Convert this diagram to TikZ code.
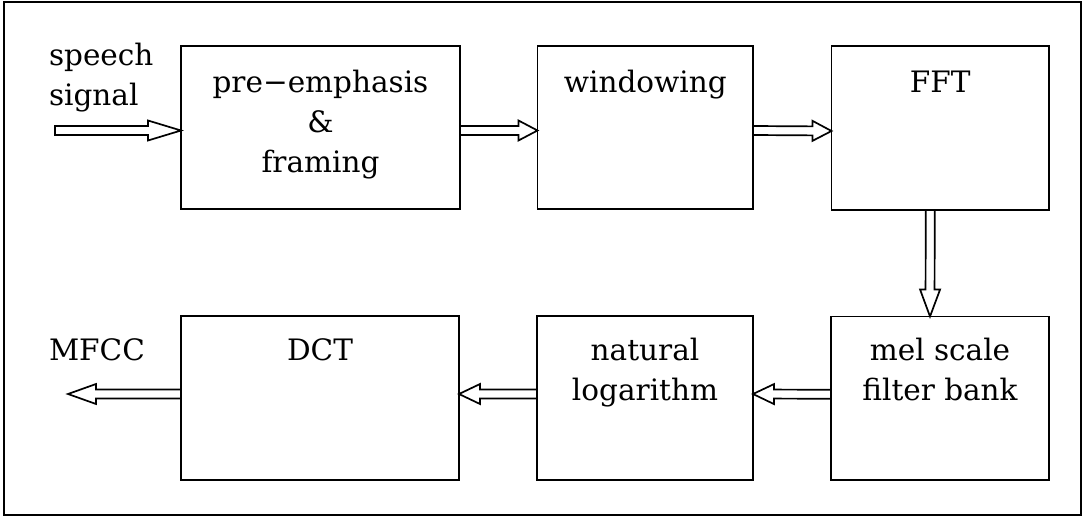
\documentclass[tikz,border=0pt]{standalone}
\usepackage{fontspec}
\setmainfont{DejaVu Serif}
\usetikzlibrary{calc}

\tikzset{
  stage/.style={draw, line width=1.7pt, rectangle, outer sep=0pt, inner sep=0pt},
  caption/.style={inner sep=0pt, outer sep=0pt, align=center,
                  font=\fontsize{29.5}{40}\selectfont},
  hollow head/.initial=20,
  % hollow block arrow drawn as an outlined polygon from start to target
  hollow/.style={line width=1.7pt, line join=miter, to path={
    let \p1=(\tikztostart), \p2=(\tikztotarget),
        \n1={veclen(\x2-\x1,\y2-\y1)},
        \n2={(\x2-\x1)/\n1}, \n3={(\y2-\y1)/\n1},
        \n4={\n1-\pgfkeysvalueof{/tikz/hollow head}}
    in ({\x1-4.5pt*\n3},{\y1+4.5pt*\n2})
    -- ({\x1+\n4*\n2*1pt-4.5pt*\n3},{\y1+\n4*\n3*1pt+4.5pt*\n2})
    -- ({\x1+\n4*\n2*1pt-10pt*\n3},{\y1+\n4*\n3*1pt+10pt*\n2})
    -- (\p2)
    -- ({\x1+\n4*\n2*1pt+10pt*\n3},{\y1+\n4*\n3*1pt-10pt*\n2})
    -- ({\x1+\n4*\n2*1pt+4.5pt*\n3},{\y1+\n4*\n3*1pt-4.5pt*\n2})
    -- ({\x1+4.5pt*\n3},{\y1-4.5pt*\n2})
    -- cycle}}
}

\begin{document}
\begin{tikzpicture}[x=1pt, y=-1pt]
  \useasboundingbox (0,0) rectangle (1083,517);
  \draw[line width=1.7pt] (4,2) rectangle (1081,515);

  % processing stages
  \node[stage, minimum width=279pt, minimum height=163pt] (pre) at (320.5,127.5) {};
  \node[stage, minimum width=215.5pt, minimum height=163pt] (win) at (645.25,127.5) {};
  \node[stage, minimum width=217.5pt, minimum height=164pt] (fft) at (940.25,128) {};
  \node[stage, minimum width=218pt, minimum height=163.5pt] (mel) at (940,398.25) {};
  \node[stage, minimum width=216pt, minimum height=164pt] (nat) at (645,398) {};
  \node[stage, minimum width=278pt, minimum height=164pt] (dct) at (320,398) {};

  % stage captions (first baselines at y = 92 and y = 360)
  \node[caption, anchor=north] (preT) at (320.5,69.6) {pre−emphasis\\\&\\framing};
  \node[caption, anchor=north] (winT) at (645.25,69.6) {windowing};
  \node[caption, anchor=base] (fftT) at (940.25,92) {FFT};
  \node[caption, anchor=north] (melT) at (940,337.6) {mel scale\\filter bank};
  \node[caption, anchor=north] (natT) at (645,337.6) {natural\\logarithm};
  \node[caption, anchor=base] (dctT) at (320,360) {DCT};

  % input and output labels
  \node[caption, anchor=north west, align=left] (inT) at (49,42.6) {speech\\signal};
  \node[caption, anchor=base west] (outT) at (49,360) {MFCC};

  \coordinate (src) at (55,130.5);
  \coordinate (dst) at (68,394);

  % signal flow
  \draw[hollow, hollow head=33] (src) to ([yshift=-3pt]pre.west);
  \draw[hollow, hollow head=19] ([yshift=-3pt]pre.east) to ([yshift=-3pt]win.west);
  \draw[hollow, hollow head=19] ([yshift=-3pt]win.east) to ([yshift=-3pt]fft.west);
  \draw[hollow, hollow head=27] ([xshift=-10pt]fft.south) to ([xshift=-10pt]mel.north);
  \draw[hollow, hollow head=21] ([yshift=4pt]mel.west) to ([yshift=4pt]nat.east);
  \draw[hollow, hollow head=21] ([yshift=4pt]nat.west) to ([yshift=4pt]dct.east);
  \draw[hollow, hollow head=28] ([yshift=4pt]dct.west) to (dst);
\end{tikzpicture}
\end{document}
